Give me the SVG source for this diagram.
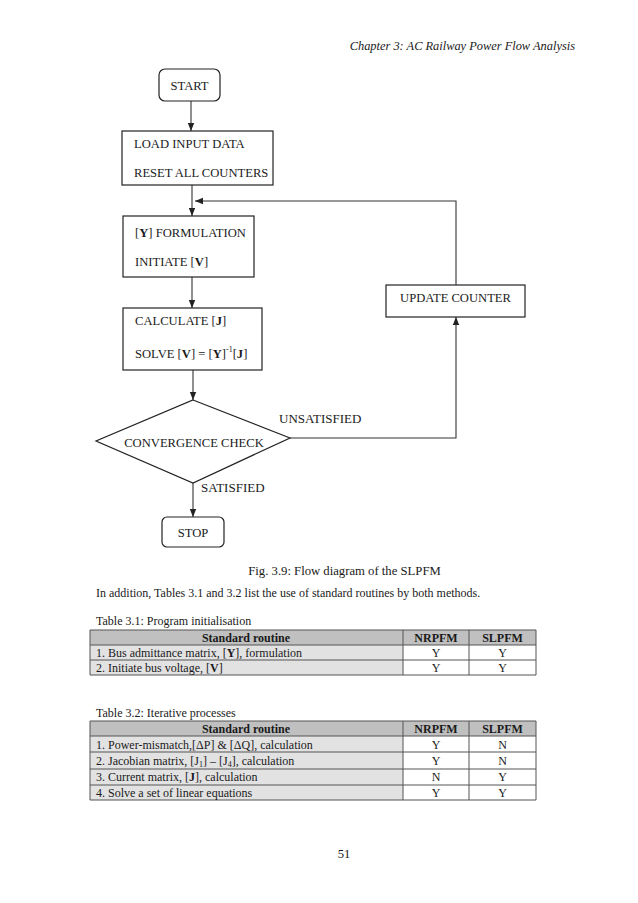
<svg xmlns="http://www.w3.org/2000/svg" width="638" height="903" viewBox="0 0 638 903">
<defs>
<marker id="ah" viewBox="0 0 10 10" refX="10" refY="5" markerWidth="8" markerHeight="8" markerUnits="userSpaceOnUse" orient="auto">
<path d="M0,1 L10,5 L0,9 Z" fill="#222"/>
</marker>
<style>
text{font-family:"Liberation Serif","Times New Roman",serif;fill:#1a1a1a}
.n{fill:#fff;stroke:#222;stroke-width:1.2}
.f{font-size:12.6px}
.l{font-size:13px}
.t{font-size:12px}
.c{stroke:#333;stroke-width:1.1;fill:none}
.hd{fill:#c0c0c0}
.lc{fill:#e2e2e2}
.wc{fill:#fff}
.g{stroke:#555;stroke-width:1;fill:none}
.b{font-weight:bold}
</style>
</defs>
<rect width="638" height="903" fill="#fff"/>
<text x="575" y="50" font-size="12.4" font-style="italic" text-anchor="end">Chapter 3: AC Railway Power Flow Analysis</text>

<g id="connectors">
<line class="c" x1="191" y1="101" x2="191" y2="131" marker-end="url(#ah)"/>
<line class="c" x1="192" y1="185" x2="192" y2="216" marker-end="url(#ah)"/>
<polyline class="c" points="456,285 456,201 195,201" marker-end="url(#ah)"/>
<line class="c" x1="192" y1="277" x2="192" y2="308" marker-end="url(#ah)"/>
<line class="c" x1="193" y1="370" x2="193" y2="400" marker-end="url(#ah)"/>
<polyline class="c" points="290,438 456,438 456,317" marker-end="url(#ah)"/>
<line class="c" x1="193" y1="483" x2="193" y2="517" marker-end="url(#ah)"/>
<text class="l" x="279" y="423">UNSATISFIED</text>
<text class="l" x="201" y="492">SATISFIED</text>
</g>

<g id="start">
<rect class="n" x="159" y="69" width="61" height="32" rx="6"/>
<text class="f" x="189.5" y="90" text-anchor="middle">START</text>
</g>
<g id="load">
<rect class="n" x="122" y="131" width="151" height="54"/>
<text class="f" x="134" y="148">LOAD INPUT DATA</text>
<text class="f" x="134" y="177">RESET ALL COUNTERS</text>
</g>
<g id="yform">
<rect class="n" x="123" y="216" width="131" height="61"/>
<text class="f" x="135" y="237">[<tspan class="b">Y</tspan>] FORMULATION</text>
<text class="f" x="135" y="266">INITIATE [<tspan class="b">V</tspan>]</text>
</g>
<g id="calc">
<rect class="n" x="123" y="308" width="139" height="62"/>
<text class="f" x="135" y="325">CALCULATE [<tspan class="b">J</tspan>]</text>
<text class="f" x="135" y="358">SOLVE [<tspan class="b">V</tspan>] = [<tspan class="b">Y</tspan>]<tspan font-size="8" dy="-6">-1</tspan><tspan dy="6">[</tspan><tspan class="b">J</tspan>]</text>
</g>
<g id="update">
<rect class="n" x="386" y="285" width="139" height="32"/>
<text class="f" x="455.5" y="302" text-anchor="middle">UPDATE COUNTER</text>
</g>
<g id="check">
<polygon class="n" points="193,400 290,438 193,483 96,441"/>
<text class="f" x="194" y="447" text-anchor="middle">CONVERGENCE CHECK</text>
</g>
<g id="stop">
<rect class="n" x="162" y="517" width="62" height="30" rx="5"/>
<text class="f" x="193" y="537" text-anchor="middle">STOP</text>
</g>

<text x="344.5" y="575" font-size="12.7" text-anchor="middle">Fig. 3.9: Flow diagram of the SLPFM</text>
<text x="96" y="597" font-size="12">In addition, Tables 3.1 and 3.2 list the use of standard routines by both methods.</text>

<text class="t" x="96" y="625">Table 3.1: Program initialisation</text>
<g id="table31">
<rect class="hd" x="90" y="630" width="446" height="15"/>
<rect class="lc" x="90" y="645" width="313" height="30"/>
<rect class="wc" x="403" y="645" width="133" height="30"/>
<path class="g" d="M90,630H536V675H90Z M90,645H536 M90,660H536 M403,630V675 M469,630V675"/>
<text class="t b" x="246" y="642" text-anchor="middle">Standard routine</text>
<text class="t b" x="436" y="642" text-anchor="middle">NRPFM</text>
<text class="t b" x="502.5" y="642" text-anchor="middle">SLPFM</text>
<text class="t" x="96" y="657">1. Bus admittance matrix, [<tspan class="b">Y</tspan>], formulation</text>
<text class="t" x="436" y="657" text-anchor="middle">Y</text>
<text class="t" x="502.5" y="657" text-anchor="middle">Y</text>
<text class="t" x="96" y="672">2. Initiate bus voltage, [<tspan class="b">V</tspan>]</text>
<text class="t" x="436" y="672" text-anchor="middle">Y</text>
<text class="t" x="502.5" y="672" text-anchor="middle">Y</text>
</g>

<text class="t" x="96" y="717">Table 3.2: Iterative processes</text>
<g id="table32">
<rect class="hd" x="90" y="721" width="446" height="15"/>
<rect class="lc" x="90" y="736" width="313" height="64"/>
<rect class="wc" x="403" y="736" width="133" height="64"/>
<path class="g" d="M90,721H536V800H90Z M90,736H536 M90,752H536 M90,769H536 M90,785H536 M403,721V800 M469,721V800"/>
<text class="t b" x="246" y="733" text-anchor="middle">Standard routine</text>
<text class="t b" x="436" y="733" text-anchor="middle">NRPFM</text>
<text class="t b" x="502.5" y="733" text-anchor="middle">SLPFM</text>
<text class="t" x="96" y="748.5">1. Power-mismatch,[ΔP] &amp; [ΔQ], calculation</text>
<text class="t" x="436" y="748.5" text-anchor="middle">Y</text>
<text class="t" x="502.5" y="748.5" text-anchor="middle">N</text>
<text class="t" x="96" y="765">2. Jacobian matrix, [J<tspan font-size="8" dy="2">1</tspan><tspan dy="-2">] – [J</tspan><tspan font-size="8" dy="2">4</tspan><tspan dy="-2">], calculation</tspan></text>
<text class="t" x="436" y="765" text-anchor="middle">Y</text>
<text class="t" x="502.5" y="765" text-anchor="middle">N</text>
<text class="t" x="96" y="781">3. Current matrix, [<tspan class="b">J</tspan>], calculation</text>
<text class="t" x="436" y="781" text-anchor="middle">N</text>
<text class="t" x="502.5" y="781" text-anchor="middle">Y</text>
<text class="t" x="96" y="796.5">4. Solve a set of linear equations</text>
<text class="t" x="436" y="796.5" text-anchor="middle">Y</text>
<text class="t" x="502.5" y="796.5" text-anchor="middle">Y</text>
</g>

<text x="344" y="858" font-size="12.7" text-anchor="middle">51</text>
</svg>
